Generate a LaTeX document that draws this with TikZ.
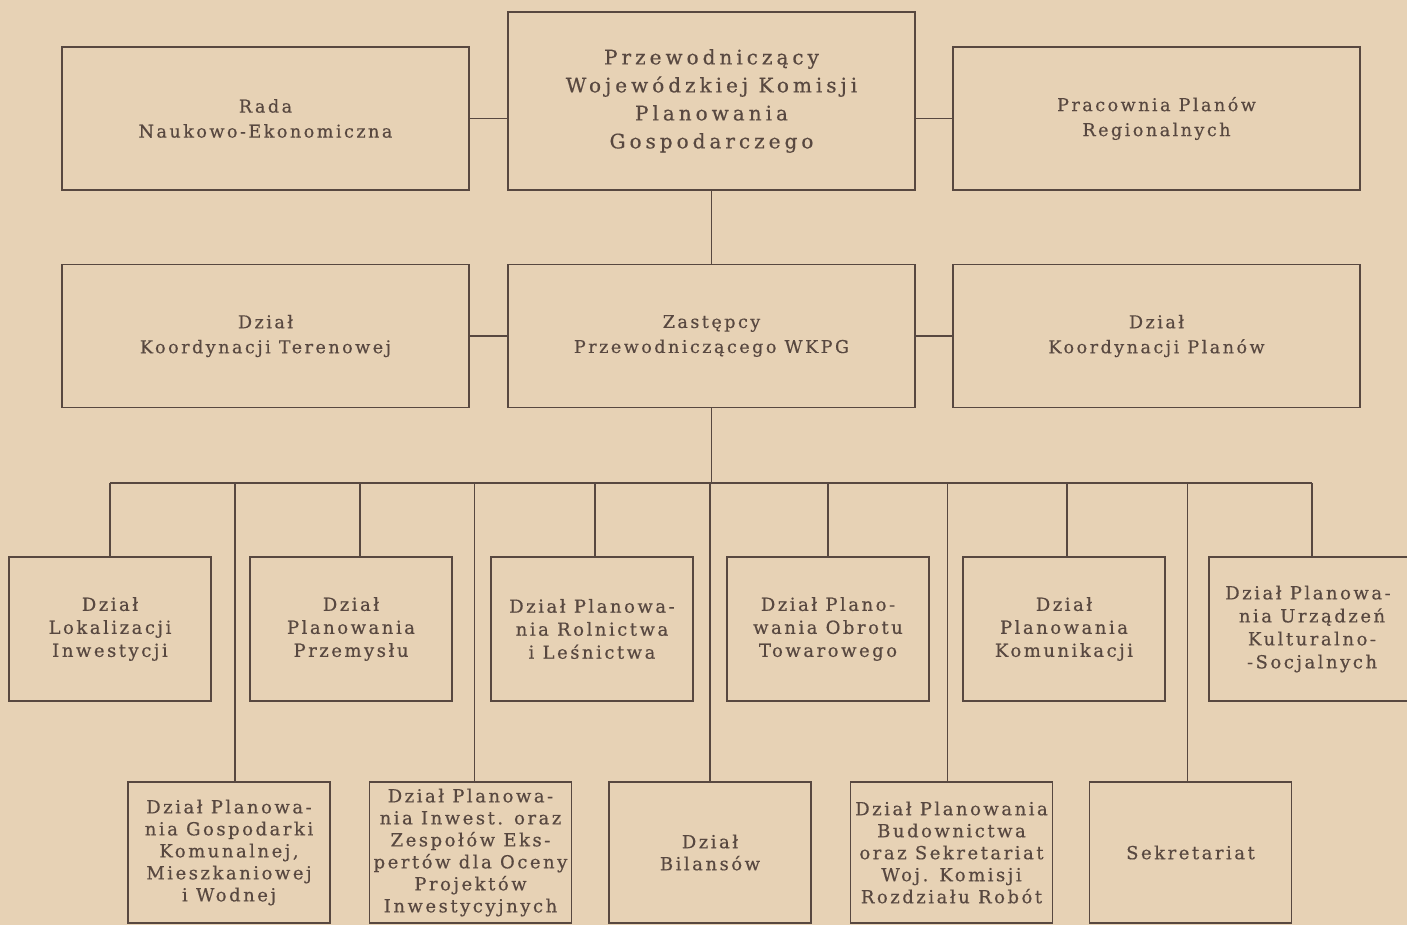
\documentclass[tikz,border=0pt]{standalone}
\usepackage{fontspec}
\setmainfont{DejaVu Serif}
\newfontfamily\headfont[LetterSpace=20, FakeBold=0.5]{DejaVu Serif}
\newfontfamily\sidefont[LetterSpace=14, FakeBold=0.4]{DejaVu Serif}
\newfontfamily\deptfont[LetterSpace=14, FakeBold=0.5]{DejaVu Serif}
\definecolor{paper}{RGB}{231,210,181}
\definecolor{ink}{RGB}{88,72,64}
\begin{document}
\begin{tikzpicture}[x=0.5pt, y=-0.5pt, ink, line width=0.8pt,
    every node/.style={align=center, inner sep=0pt},
    headbox/.style={draw, minimum width=203.5pt, minimum height=89pt, font=\headfont\fontsize{10}{14}\selectfont},
    sidebox/.style={draw, minimum width=203.5pt, minimum height=71.5pt, font=\sidefont\fontsize{8.8}{12.5}\selectfont},
    deptbox/.style={draw, minimum width=101pt, minimum height=72pt, font=\deptfont\fontsize{9}{11.5}\selectfont},
    lowbox/.style={draw, minimum width=101pt, minimum height=70.5pt, font=\deptfont\fontsize{9}{11}\selectfont}]
    \clip (0,0) rectangle (1407,925);
    \fill[paper] (0,0) rectangle (1407,925);
    \node[headbox] (przew) at (711.5,101) {Przewodniczący\\Wojewódzkiej Komisji\\Planowania\\Gospodarczego};
    \node[sidebox] (rada) at (265.5,118.5) {Rada\\Naukowo-Ekonomiczna};
    \node[sidebox] (pracownia) at (1156.5,118.5) {Pracownia Planów\\Regionalnych};
    \node[sidebox] (terenowa) at (265.5,336) {Dział\\Koordynacji Terenowej};
    \node[sidebox] (zastepcy) at (711.5,336) {Zastępcy\\Przewodniczącego WKPG};
    \node[sidebox] (planow) at (1156.5,336) {Dział\\Koordynacji Planów};
    \node[deptbox] (lokal) at (110,629) {Dział\\Lokalizacji\\Inwestycji};
    \node[deptbox] (przemysl) at (351,629) {Dział\\Planowania\\Przemysłu};
    \node[deptbox] (rolnictwo) at (592,629) {Dział Planowa-\\nia Rolnictwa\\i Leśnictwa};
    \node[deptbox] (obrot) at (828,629) {Dział Plano-\\wania Obrotu\\Towarowego};
    \node[deptbox] (komunik) at (1064,629) {Dział\\Planowania\\Komunikacji};
    \node[deptbox, minimum width=103pt] (kultura) at (1312,629) {\hspace*{-4pt}Dział Planowa-\\nia Urządzeń\\Kulturalno-\\-Socjalnych};
    \node[lowbox] (gospodarka) at (229,852.5) {Dział Planowa-\\nia Gospodarki\\Komunalnej,\\Mieszkaniowej\\i Wodnej};
    \node[lowbox] (inwest) at (470.5,852.5) {Dział Planowa-\\nia Inwest. oraz\\Zespołów Eks-\\pertów dla Oceny\\Projektów\\Inwestycyjnych};
    \node[lowbox] (bilans) at (710,852.5) {Dział\\Bilansów};
    \node[lowbox] (budown) at (951.5,852.5) {Dział Planowania\\Budownictwa\\oraz Sekretariat\\Woj. Komisji\\Rozdziału Robót};
    \node[lowbox] (sekretariat) at (1190.5,852.5) {Sekretariat};
    \coordinate (bus) at (711.5,483);
    \draw (rada.east) -- (rada.east -| przew.west);
    \draw (przew.east |- pracownia.west) -- (pracownia.west);
    \draw (przew) -- (zastepcy);
    \draw (terenowa) -- (zastepcy);
    \draw (zastepcy) -- (planow);
    \draw (zastepcy) -- (bus);
    \draw (lokal.north |- bus) -- (kultura.north |- bus);
    \draw (lokal.north) -- (lokal.north |- bus);
    \draw ([xshift=4.5pt]przemysl.north) -- ([xshift=4.5pt]przemysl.north |- bus);
    \draw ([xshift=1.5pt]rolnictwo.north) -- ([xshift=1.5pt]rolnictwo.north |- bus);
    \draw (obrot.north) -- (obrot.north |- bus);
    \draw ([xshift=1.5pt]komunik.north) -- ([xshift=1.5pt]komunik.north |- bus);
    \draw (kultura.north) -- (kultura.north |- bus);
    \draw ([xshift=3pt]gospodarka.north) -- ([xshift=3pt]gospodarka.north |- bus);
    \draw ([xshift=2pt]inwest.north) -- ([xshift=2pt]inwest.north |- bus);
    \draw (bilans.north) -- (bilans.north |- bus);
    \draw ([xshift=-2pt]budown.north) -- ([xshift=-2pt]budown.north |- bus);
    \draw ([xshift=-1.5pt]sekretariat.north) -- ([xshift=-1.5pt]sekretariat.north |- bus);
\end{tikzpicture}
\end{document}
